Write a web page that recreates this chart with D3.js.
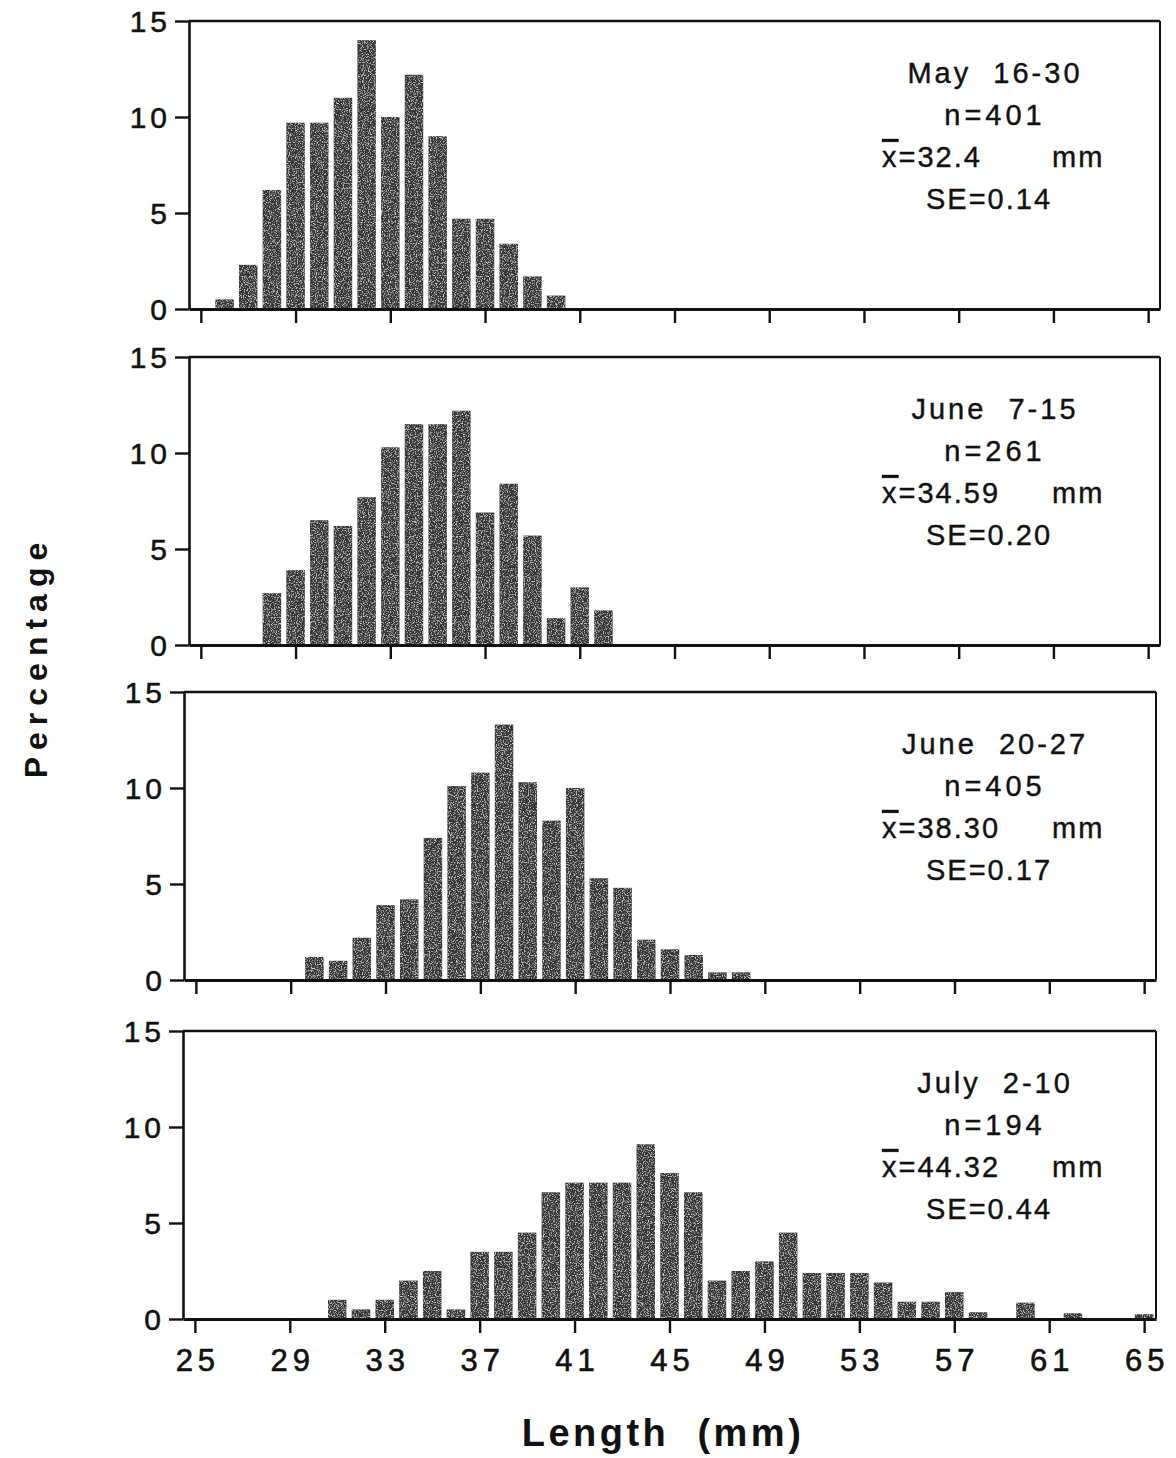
<!DOCTYPE html>
<html>
<head>
<meta charset="utf-8">
<script src="https://cdn.jsdelivr.net/npm/d3@7"></script>
<style>
  body { margin: 0; background: #fff; }
  svg { display: block; }
  text { font-family: "Liberation Sans", Arial, Helvetica, sans-serif; fill: #111; }
</style>
</head>
<body>
<div id="chart"></div>
<script>
// percentage of fish at each length (mm)
var mayStart = 26;
var mayPct = [0.5, 2.3, 6.2, 9.7, 9.7, 11.0, 14.0, 10.0, 12.2, 9.0, 4.7, 4.7, 3.4, 1.7, 0.7];

var juneEarlyStart = 28;
var juneEarlyPct = [2.7, 3.9, 6.5, 6.2, 7.7, 10.3, 11.5, 11.5, 12.2, 6.9, 8.4, 5.7, 1.4, 3.0, 1.8];

var juneLateStart = 30;
var juneLatePct = [1.2, 1.0, 2.2, 3.9, 4.2, 7.4, 10.1, 10.8, 13.3, 10.3, 8.3, 10.0, 5.3, 4.8, 2.1, 1.6, 1.3, 0.4, 0.4];

var julyStart = 31;
var julyPct = [1.0, 0.5, 1.0, 2.0, 2.5, 0.5, 3.5, 3.5, 4.5, 6.6, 7.1, 7.1, 7.1, 9.1, 7.6, 6.6,
               2.0, 2.5, 3.0, 4.5, 2.4, 2.4, 2.4, 1.9, 0.9, 0.9, 1.4, 0.35, 0, 0.85, 0, 0.3, 0, 0, 0.25];

var periodLabels = ["May  16-30", "June  7-15", "June  20-27", "July  2-10"];
var sampleSizes = ["n=401", "n=261", "n=405", "n=194"];
var meanLengths = ["32.4", "34.59", "38.30", "44.32"];
var stdErrors = ["SE=0.14", "SE=0.20", "SE=0.17", "SE=0.44"];

var xTicks = [25, 29, 33, 37, 41, 45, 49, 53, 57, 61, 65];
var yTicks = [0, 5, 10, 15];

var panels = [
	{ start: mayStart, pct: mayPct },
	{ start: juneEarlyStart, pct: juneEarlyPct },
	{ start: juneLateStart, pct: juneLatePct },
	{ start: julyStart, pct: julyPct }
];

// layout (the scan drifts a few pixels from panel to panel)
var width = 1176, height = 1458;
var panelTop = [21, 357, 692, 1031];
var panelH = 288;
var panelLeft = [189, 189, 184, 183];
var panelRight = [1160, 1160, 1156, 1156];
var font = "'Liberation Sans', Arial, Helvetica, sans-serif";

var svg = d3.select("#chart").append("svg")
	.attr("width", width)
	.attr("height", height);

svg.append("rect").attr("width", width).attr("height", height).attr("fill", "#fff");

// speckled grey fill, like the printed screen tone
var defs = svg.append("defs");
var grain = defs.append("filter").attr("id", "grain")
	.attr("x", 0).attr("y", 0).attr("width", 1).attr("height", 1);
grain.append("feTurbulence")
	.attr("type", "fractalNoise")
	.attr("baseFrequency", 0.85)
	.attr("numOctaves", 2)
	.attr("seed", 3)
	.attr("result", "noise");
grain.append("feColorMatrix")
	.attr("in", "noise")
	.attr("type", "matrix")
	.attr("values", "0 0 0 0 0.72  0 0 0 0 0.72  0 0 0 0 0.72  3.2 0 0 0 -1.6")
	.attr("result", "specks");
grain.append("feComposite")
	.attr("in", "specks").attr("in2", "SourceGraphic")
	.attr("operator", "in").attr("result", "clipped");
var merge = grain.append("feMerge");
merge.append("feMergeNode").attr("in", "SourceGraphic");
merge.append("feMergeNode").attr("in", "clipped");

panels.forEach(function(p, i)
{
	var top = panelTop[i];
	var x = d3.scaleLinear().domain([24.5, 65.5]).range([panelLeft[i], panelRight[i]]);
	var y = d3.scaleLinear().domain([0, 15]).range([top + panelH, top]);
	var barW = (x(1) - x(0)) * 0.78;

	var data = p.pct.map(function(v, k) { return { len: p.start + k, pct: v }; })
		.filter(function(d) { return d.pct > 0; });

	var g = svg.append("g");

	// bars
	g.append("g").attr("filter", "url(#grain)")
		.selectAll("rect").data(data).enter().append("rect")
		.attr("x", function(d) { return x(d.len) - barW / 2; })
		.attr("y", function(d) { return y(d.pct); })
		.attr("width", barW)
		.attr("height", function(d) { return y(0) - y(d.pct); })
		.attr("fill", "#363636");

	// frame: top and right
	g.append("line")
		.attr("x1", x(24.5)).attr("x2", x(65.5))
		.attr("y1", y(15)).attr("y2", y(15))
		.attr("stroke", "#111").attr("stroke-width", 2.4);
	g.append("line")
		.attr("x1", x(65.5)).attr("x2", x(65.5))
		.attr("y1", y(15)).attr("y2", y(0))
		.attr("stroke", "#111").attr("stroke-width", 2);

	// y axis
	var yAxis = d3.axisLeft(y).tickValues(yTicks).tickSize(14).tickSizeOuter(0).tickPadding(4);
	var ya = g.append("g").attr("transform", "translate(" + x(24.5) + ",0)").call(yAxis);
	ya.select(".domain").attr("stroke", "#111").attr("stroke-width", 2.6);
	ya.selectAll(".tick line").attr("stroke", "#111").attr("stroke-width", 2.4);
	ya.selectAll(".tick text")
		.attr("font-family", font)
		.attr("font-size", 30)
		.attr("letter-spacing", "4px")
		.attr("dy", "0.36em")
		.attr("fill", "#111")
		.attr("stroke", "#111")
		.attr("stroke-width", 0.5);

	// x axis
	var xAxis = d3.axisBottom(x).tickValues(xTicks).tickSize(14).tickSizeOuter(0).tickPadding(16)
		.tickFormat(i === 3 ? d3.format("d") : function() { return ""; });
	var xa = g.append("g").attr("transform", "translate(0," + y(0) + ")").call(xAxis);
	xa.select(".domain").attr("stroke", "#111").attr("stroke-width", 2.8);
	xa.selectAll(".tick line").attr("stroke", "#111").attr("stroke-width", 2.4);
	xa.selectAll(".tick text")
		.attr("font-family", font)
		.attr("font-size", 31)
		.attr("letter-spacing", "5px")
		.attr("dx", "2.5px")
		.attr("dy", "0.72em")
		.attr("fill", "#111")
		.attr("stroke", "#111")
		.attr("stroke-width", 0.6);

	// annotation block
	var cx = 995;
	var note = g.append("g").attr("font-family", font).attr("font-size", 29)
		.attr("fill", "#111").attr("stroke", "#111").attr("stroke-width", 0.4);
	note.append("text").attr("x", cx).attr("y", top + 62)
		.attr("text-anchor", "middle").attr("letter-spacing", "3px")
		.style("white-space", "pre").text(periodLabels[i]);
	note.append("text").attr("x", cx).attr("y", top + 104)
		.attr("text-anchor", "middle").attr("letter-spacing", "4px")
		.text(sampleSizes[i]);
	var meanText = note.append("text").attr("x", 882).attr("y", top + 146)
		.attr("letter-spacing", "2px");
	meanText.append("tspan").style("text-decoration", "overline").text("x");
	meanText.append("tspan").text("=" + meanLengths[i]);
	note.append("text").attr("x", 1052).attr("y", top + 146)
		.attr("letter-spacing", "2px").text("mm");
	note.append("text").attr("x", cx - 6).attr("y", top + 188)
		.attr("text-anchor", "middle").attr("letter-spacing", "2px")
		.text(stdErrors[i]);
});

// axis titles
svg.append("text")
	.attr("transform", "translate(47,657) rotate(-90)")
	.attr("text-anchor", "middle")
	.attr("font-family", font)
	.attr("font-size", 32)
	.attr("font-weight", "bold")
	.attr("letter-spacing", "7px")
	.text("Percentage");

svg.append("text")
	.attr("x", 663)
	.attr("y", 1446)
	.attr("text-anchor", "middle")
	.attr("font-family", font)
	.attr("font-size", 38)
	.attr("font-weight", "bold")
	.attr("letter-spacing", "3.5px")
	.style("white-space", "pre")
	.text("Length  (mm)");
</script>
</body>
</html>
